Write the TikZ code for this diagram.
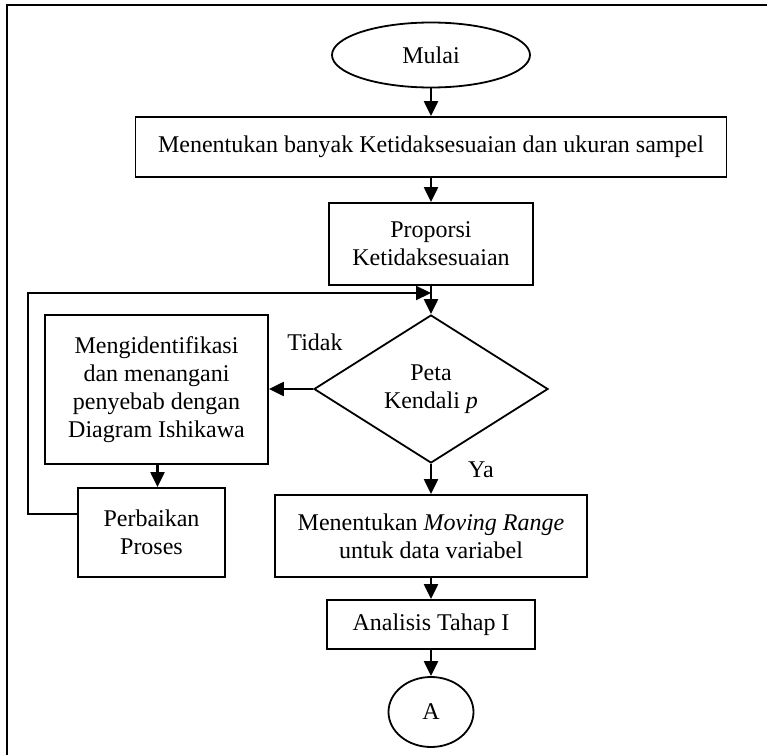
\documentclass[tikz,border=0pt]{standalone}
\usepackage{fontspec}
\setmainfont{Liberation Serif}
\usetikzlibrary{shapes.geometric,arrows.meta}
\begin{document}
\begin{tikzpicture}[x=0.5pt,y=-0.5pt,
  every node/.style={font=\fontsize{12}{14}\selectfont},
  box/.style={draw,line width=0.9pt,rectangle,align=center,inner sep=0pt},
  terminal/.style={draw,line width=0.9pt,ellipse,inner sep=0pt},
  decision/.style={draw,line width=0.9pt,diamond,align=center,inner sep=0pt},
  flow/.style={line width=1.1pt,-{Triangle[length=7.5pt,width=7pt]}},
  plain/.style={line width=1.1pt},
  lbl/.style={inner sep=0pt}]
\useasboundingbox (0,0) rectangle (767,755);

% outer frame
\draw[line width=1.3pt] (767,5) -- (7,5) -- (7,755);

% main column
\node[terminal,minimum width=99pt,minimum height=32.5pt] (start) at (431,55) {Mulai};
\node[box,minimum width=295.5pt,minimum height=30pt] (count) at (431,147)
  {Menentukan banyak Ketidaksesuaian dan ukuran sampel};
\node[box,minimum width=102pt,minimum height=41pt] (prop) at (431,244)
  {Proporsi\\Ketidaksesuaian};
\node[decision,minimum width=117pt,minimum height=74pt] (pchart) at (431,389)
  {Peta\\Kendali \textit{p}};
\node[box,minimum width=156pt,minimum height=41pt] (mr) at (431,536)
  {Menentukan \textit{Moving Range}\\untuk data variabel};
\node[box,minimum width=104pt,minimum height=24.5pt] (phase) at (431,624.5)
  {Analisis Tahap I};
\node[terminal,minimum width=42.5pt,minimum height=35pt] (conn) at (431,712) {A};

% corrective branch
\node[box,minimum width=111.5pt,minimum height=74.5pt] (ident) at (156.5,389.5)
  {Mengidentifikasi\\dan menangani\\penyebab dengan\\Diagram Ishikawa};
\node[box,minimum width=73.5pt,minimum height=44.5pt] (fix) at (151.5,532.5)
  {Perbaikan\\Proses};

% branch labels
\node[lbl] (no) at (315,342) {Tidak};
\node[lbl] (yes) at (481,470) {Ya};

% junction where the loop rejoins
\coordinate (join) at (431,293);

% connectors
\draw[flow] (start) -- (count);
\draw[flow] (count) -- (prop);
\draw[plain] (prop.south) -- (join);
\draw[flow] (join) -- (pchart.north);
\draw[flow] (pchart.west) -- (pchart.west -| ident.east);
\draw[flow] (ident.south -| 157.5,0) -- (fix.north -| 157.5,0);
\draw[flow] ([yshift=9.25pt]fix.west) -- ++(-49,0) |- (join);
\draw[flow] (pchart.south) -- (mr.north);
\draw[flow] (mr) -- (phase);
\draw[flow] (phase) -- (conn);
\end{tikzpicture}
\end{document}
